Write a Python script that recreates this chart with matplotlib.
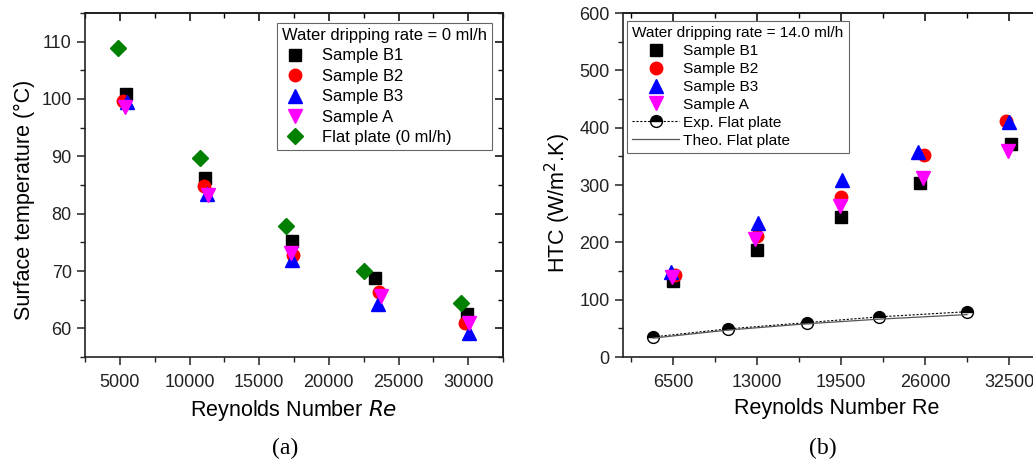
import matplotlib
matplotlib.use("Agg")
import matplotlib.pyplot as plt
from matplotlib.ticker import MultipleLocator

plt.rcParams['font.family'] = ['Liberation Sans', 'DejaVu Sans']

# ---------- Panel (a): surface temperature, 0 ml/h ----------
a_re_b1 = [5430, 11130, 17340, 23330, 29900]
a_t_b1 = [100.9, 86.2, 75.2, 68.8, 62.5]
a_re_b2 = [5220, 11060, 17400, 23620, 29750]
a_t_b2 = [99.7, 84.8, 72.8, 66.4, 60.9]
a_re_b3 = [5500, 11270, 17340, 23530, 30040]
a_t_b3 = [99.5, 83.4, 71.9, 64.2, 59.1]
a_re_a = [5360, 11350, 17270, 23760, 30040]
a_t_a = [98.6, 83.3, 73.2, 65.6, 61.0]
a_re_flat = [4870, 10770, 16900, 22530, 29460]
a_t_flat = [108.9, 89.7, 77.8, 70.0, 64.4]

# ---------- Panel (b): HTC, 14.0 ml/h ----------
b_re_b1 = [6500, 13000, 19500, 25610, 32650]
b_h_b1 = [133, 187, 244, 304, 372]
b_re_b2 = [6650, 13000, 19500, 25920, 32270]
b_h_b2 = [143, 211, 279, 352, 411]
b_re_b3 = [6350, 13080, 19580, 25460, 32500]
b_h_b3 = [148, 233, 308, 357, 410]
b_re_a = [6420, 12850, 19420, 25840, 32420]
b_h_a = [140, 205, 263, 313, 359]
b_re_flat = [4950, 10760, 16870, 22440, 29250]
b_h_exp = [35, 49, 60, 70, 79]
b_h_theo = [33, 47, 58, 66, 74]

a_xticks = [5000, 10000, 15000, 20000, 25000, 30000]
b_xticks = [6500, 13000, 19500, 26000, 32500]

fig = plt.figure(figsize=(10.33, 4.65), dpi=100)
W, H = 1033, 465

def frac(l, r, t, b):
    return [l / W, 1 - b / H, (r - l) / W, (b - t) / H]

axA = fig.add_axes(frac(85, 503, 13, 357))
axB = fig.add_axes(frac(623, 1051, 13, 357))

ms = 8.5
common = dict(linestyle='none')

axA.plot(a_re_b1, a_t_b1, marker='s', color='black', ms=ms, label='Sample B1', **common)
axA.plot(a_re_b2, a_t_b2, marker='o', color='red', ms=ms + 0.5, label='Sample B2', **common)
axA.plot(a_re_b3, a_t_b3, marker='^', color='blue', ms=ms + 1, label='Sample B3', **common)
axA.plot(a_re_a, a_t_a, marker='v', color='magenta', ms=ms + 1, label='Sample A', **common)
axA.plot(a_re_flat, a_t_flat, marker='D', color='green', ms=ms, label='Flat plate (0 ml/h)', **common)

axB.plot(b_re_b1, b_h_b1, marker='s', color='black', ms=ms, label='Sample B1', **common)
axB.plot(b_re_b2, b_h_b2, marker='o', color='red', ms=ms + 0.5, label='Sample B2', **common)
axB.plot(b_re_b3, b_h_b3, marker='^', color='blue', ms=ms + 1, label='Sample B3', **common)
axB.plot(b_re_a, b_h_a, marker='v', color='magenta', ms=ms + 1, label='Sample A', **common)
axB.plot(b_re_flat, b_h_exp, linestyle=(0, (2, 1.5)), color='black', lw=0.8,
         marker='o', ms=ms, markerfacecolor='black', markerfacecoloralt='white',
         fillstyle='top', markeredgecolor='black', markeredgewidth=1.0,
         label='Exp. Flat plate')
axB.plot(b_re_flat, b_h_theo, linestyle='-', color='#555555', lw=0.9, label='Theo. Flat plate')

tick_fs = 13
label_fs = 15.5

# Axis A
axA.set_xlim(2500, 32500)
axA.set_ylim(55, 115)
axA.set_xticks(a_xticks)
axA.xaxis.set_minor_locator(MultipleLocator(2500))
axA.set_yticks([60, 70, 80, 90, 100, 110])
axA.yaxis.set_minor_locator(MultipleLocator(5))
axA.set_xlabel('Reynolds Number $\\mathit{Re}$', fontsize=label_fs, labelpad=5)
axA.set_ylabel('Surface temperature (\u00b0C)', fontsize=label_fs)
axA.yaxis.set_label_coords(-0.12, 0.456)

# Axis B
axB.set_xlim(2630, 35750)
axB.set_ylim(0, 600)
axB.set_xticks(b_xticks)
axB.xaxis.set_minor_locator(MultipleLocator(3250))
axB.set_yticks([0, 100, 200, 300, 400, 500, 600])
axB.yaxis.set_minor_locator(MultipleLocator(50))
axB.set_xlabel('Reynolds Number Re', fontsize=label_fs, labelpad=5)
axB.set_ylabel('HTC (W/m$^2$.K)', fontsize=label_fs)
axB.yaxis.set_label_coords(-0.117, 0.448)

for ax in (axA, axB):
    for s in ax.spines.values():
        s.set_linewidth(1.2)
        s.set_color('#222222')
    ax.tick_params(which='major', direction='out', length=6, width=1.1, labelsize=tick_fs,
                   colors='#222222')
    ax.tick_params(which='minor', direction='out', length=3.5, width=1.0, colors='#222222')
    ax.tick_params(axis='x', pad=6)
    top = ax.secondary_xaxis('top')
    top.set_xticks(ax.get_xticks())
    top.xaxis.set_minor_locator(ax.xaxis.get_minor_locator())
    top.tick_params(which='major', direction='in', length=6, width=1.1, labeltop=False)
    top.tick_params(which='minor', direction='in', length=3.5, width=1.0)
    top.spines['top'].set_linewidth(1.2)
    right = ax.secondary_yaxis('right')
    right.set_yticks(ax.get_yticks())
    right.yaxis.set_minor_locator(ax.yaxis.get_minor_locator())
    right.tick_params(which='major', direction='in', length=6, width=1.1, labelright=False)
    right.tick_params(which='minor', direction='in', length=3.5, width=1.0)
    right.spines['right'].set_linewidth(1.2)

legA = axA.legend(title='Water dripping rate = 0 ml/h', loc='upper left',
                  bbox_to_anchor=(277 / W, 1 - 23 / H), bbox_transform=fig.transFigure,
                  fontsize=11.9, title_fontsize=11.9, frameon=True, fancybox=False,
                  edgecolor='#666666', framealpha=1, alignment='left',
                  handlelength=1.6, handletextpad=0.8, labelspacing=0.33,
                  borderpad=0.3, borderaxespad=0)
legA.get_frame().set_linewidth(0.8)

legB = axB.legend(title='Water dripping rate = 14.0 ml/h', loc='upper left',
                  bbox_to_anchor=(627 / W, 1 - 21 / H), bbox_transform=fig.transFigure,
                  fontsize=11.1, title_fontsize=11.1, frameon=True, fancybox=False,
                  edgecolor='#666666', framealpha=1, alignment='left',
                  handlelength=3.0, handletextpad=0.3, labelspacing=0.25,
                  borderpad=0.35, borderaxespad=0)
legB.get_frame().set_linewidth(0.8)

fig.text(285 / W, 1 - 448 / H, '(a)', fontsize=17, family=['Liberation Serif'],
         ha='center', va='center')
fig.text(823 / W, 1 - 448 / H, '(b)', fontsize=17, family=['Liberation Serif'],
         ha='center', va='center')

fig.savefig('out.png', dpi=100)
